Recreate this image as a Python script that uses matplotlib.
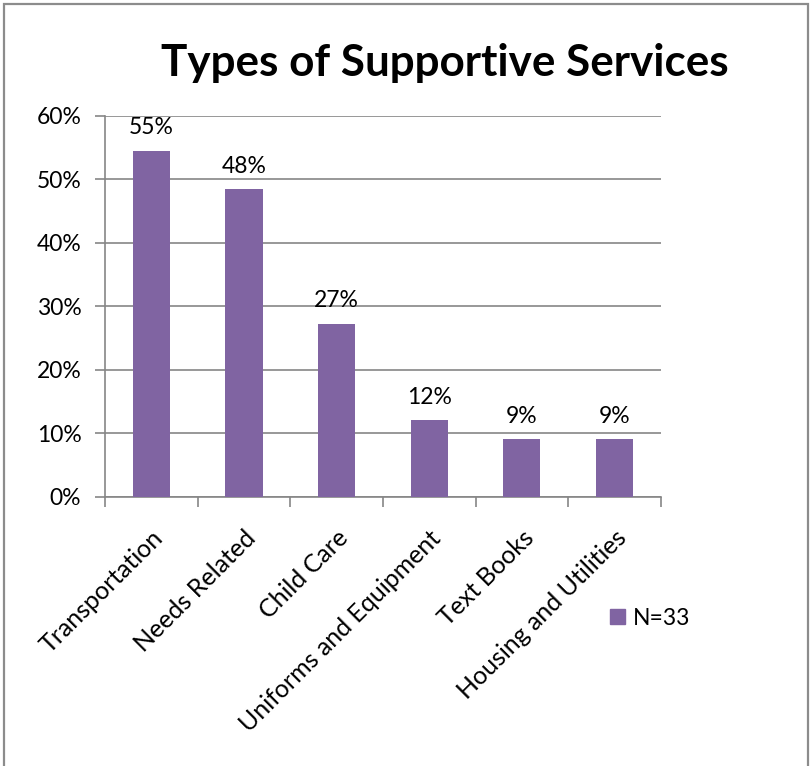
import matplotlib.pyplot as plt
from matplotlib.patches import Rectangle
from matplotlib.ticker import PercentFormatter

categories = ['Transportation', 'Needs Related', 'Child Care',
              'Uniforms and Equipment', 'Text Books', 'Housing and Utilities']
counts = [18, 16, 9, 4, 3, 3]
n_total = 33
y_ticks = [0, 0.1, 0.2, 0.3, 0.4, 0.5, 0.6]

purple = '#8064A2'
grid_gray = '#868686'

plt.rcParams['font.family'] = ['Lato', 'DejaVu Sans']

shares = [c / n_total for c in counts]

fig = plt.figure(figsize=(8.10, 7.66), dpi=100)
ax = fig.add_axes([0.1296, 0.3512, 0.6864, 0.4974])

# outer chart frame
fig.add_artist(Rectangle((0.005, -0.01), 0.993, 1.005, transform=fig.transFigure,
                         fill=False, edgecolor='#8c8c8c', linewidth=1.6))

x = list(range(len(categories)))
ax.bar(x, shares, width=0.4, color=purple, zorder=3)
for xi, s in zip(x, shares):
    ax.annotate(f'{s:.0%}', (xi, s), xytext=(0, 9), textcoords='offset points',
                ha='center', va='bottom', fontsize=16.5, color='black')

ax.set_xlim(-0.5, len(categories) - 0.5)
ax.set_ylim(0, 0.6)
ax.set_yticks(y_ticks)
ax.yaxis.set_major_formatter(PercentFormatter(1.0, decimals=0))
ax.grid(axis='y', color=grid_gray, linewidth=1.2, zorder=0)

# category boundaries as ticks, labels at bar centres
ax.set_xticks([i - 0.5 for i in range(len(categories) + 1)])
ax.set_xticklabels([])
ax.set_xticks(x, minor=True)
ax.set_xticklabels(categories, minor=True, rotation=45, ha='right',
                   rotation_mode='anchor', fontsize=18)
ax.tick_params(axis='x', which='minor', length=0, pad=21)
ax.tick_params(axis='x', which='major', length=7, color=grid_gray, width=1.2)
ax.tick_params(axis='y', length=7, color=grid_gray, width=1.2, labelsize=16.5, pad=10)

for side in ('top', 'right'):
    ax.spines[side].set_visible(False)
for side in ('left', 'bottom'):
    ax.spines[side].set_color(grid_gray)
    ax.spines[side].set_linewidth(1.2)

fig.text(0.549, 0.918, 'Types of Supportive Services', ha='center', va='center',
         fontsize=31.7, fontweight='bold')

ax.legend([Rectangle((0, 0), 1, 1, color=purple)], [f'N={n_total}'],
          loc='center left', bbox_to_anchor=(0.728, 0.193), bbox_transform=fig.transFigure,
          frameon=False, fontsize=16.5, handlelength=0.65, handleheight=0.65,
          handletextpad=0.35)

fig.savefig('out.png', dpi=100)
